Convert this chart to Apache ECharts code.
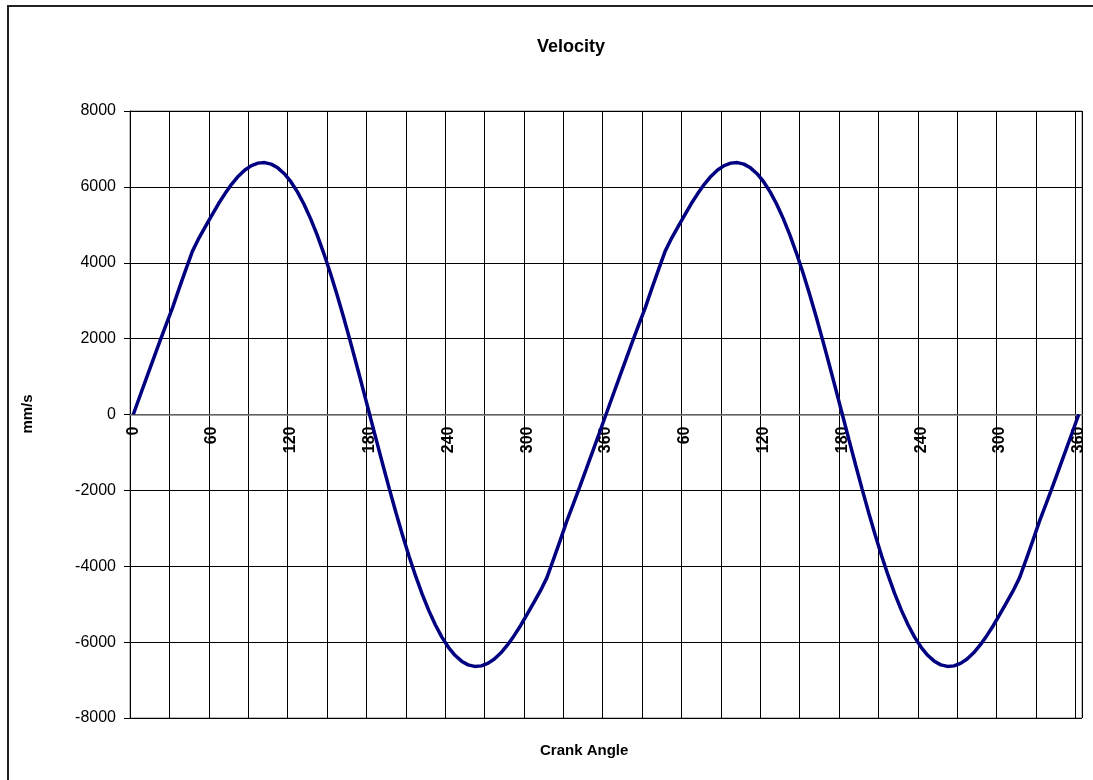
<!DOCTYPE html>
<html>
<head>
<meta charset="utf-8">
<title>Velocity</title>
<script src="https://cdn.jsdelivr.net/npm/echarts@6.0.0/dist/echarts.min.js"></script>
<style>
html,body{margin:0;padding:0;background:#fff;}
#velocityChart{width:1093px;height:780px;}
</style>
</head>
<body>
<div id="velocityChart"></div>
<script>
// crank angle categories, 5 degree steps, two turns (second turn restarts at 5)
var angles = ['0','5','10','15','20','25','30','35','40','45','50','55','60','65','70','75','80','85','90','95','100','105','110','115','120','125','130','135','140','145','150','155','160','165','170','175','180','185','190','195','200','205','210','215','220','225','230','235','240','245','250','255','260','265','270','275','280','285','290','295','300','305','310','315','320','325','330','335','340','345','350','355','360',
	'5','10','15','20','25','30','35','40','45','50','55','60','65','70','75','80','85','90','95','100','105','110','115','120','125','130','135','140','145','150','155','160','165','170','175','180','185','190','195','200','205','210','215','220','225','230','235','240','245','250','255','260','265','270','275','280','285','290','295','300','305','310','315','320','325','330','335','340','345','350','355','360'];

// velocity mm/s
var velocity = [0,481,959,1435,1906,2370,2825,3330,3820,4300,4650,4960,5260,5560,5830,6074,6281,6444,6560,6626,6640,6599,6502,6347,6136,5867,5542,5163,4734,4256,3735,3174,2581,1960,1319,663,0,
	-663,-1319,-1960,-2581,-3174,-3735,-4256,-4734,-5163,-5542,-5867,-6136,-6347,-6502,-6599,-6640,-6626,-6560,-6444,-6281,-6074,-5830,-5560,-5260,-4960,-4650,-4300,-3820,-3330,-2825,-2370,-1906,-1435,-959,-481,0,
	481,959,1435,1906,2370,2825,3330,3820,4300,4650,4960,5260,5560,5830,6074,6281,6444,6560,6626,6640,6599,6502,6347,6136,5867,5542,5163,4734,4256,3735,3174,2581,1960,1319,663,0,
	-663,-1319,-1960,-2581,-3174,-3735,-4256,-4734,-5163,-5542,-5867,-6136,-6347,-6502,-6599,-6640,-6626,-6560,-6444,-6281,-6074,-5830,-5560,-5260,-4960,-4650,-4300,-3820,-3330,-2825,-2370,-1906,-1435,-959,-481,0];

var yTicks = [-8000,-6000,-4000,-2000,0,2000,4000,6000,8000];

var myChart = echarts.init(document.getElementById('velocityChart'));

var gridTop = 111, gridBottom = 62;
var plotH = 780 - gridTop - gridBottom;
// the category axis sits on the zero line, half way up the plot
var zeroOffset = -plotH * (0 - yTicks[0]) / (yTicks[yTicks.length - 1] - yTicks[0]);

var option = {
	animation: false,
	backgroundColor: '#fff',
	textStyle: { fontFamily: 'Arial, "Liberation Sans", sans-serif' },
	title: {
		text: 'Velocity',
		left: 566,
		top: 33,
		textAlign: 'center',
		textStyle: { fontSize: 18, fontWeight: 'bold', color: '#000' }
	},
	grid: {
		left: 130,
		right: 11,
		top: gridTop,
		bottom: gridBottom,
		show: true,
		borderColor: '#808080',
		borderWidth: 1,
		containLabel: false
	},
	graphic: [
		{
			type: 'rect',
			shape: { x: 8, y: 6, width: 1200, height: 900 },
			style: { fill: null, stroke: '#222', lineWidth: 2 },
			silent: true
		},
		{
			type: 'text',
			left: 540,
			top: 743,
			style: { text: 'Crank Angle', font: 'bold 15px Arial, "Liberation Sans", sans-serif', fill: '#000' }
		},
		{
			type: 'text',
			x: 28,
			y: 414,
			rotation: Math.PI / 2,
			style: { text: 'mm/s', font: 'bold 15px Arial, "Liberation Sans", sans-serif', fill: '#000', align: 'center', verticalAlign: 'middle' }
		}
	],
	xAxis: {
		type: 'category',
		data: angles,
		boundaryGap: true,
		position: 'bottom',
		offset: zeroOffset,
		axisLine: { onZero: false, lineStyle: { color: '#808080', width: 1.5 } },
		axisTick: { show: false },
		axisLabel: {
			interval: 11,
			rotate: 90,
			margin: 12,
			fontSize: 16,
			fontWeight: 'bold',
			color: '#000'
		},
		splitLine: { show: true, interval: 5, lineStyle: { color: '#000', width: 1 } }
	},
	yAxis: {
		type: 'value',
		min: yTicks[0],
		max: yTicks[yTicks.length - 1],
		interval: 2000,
		axisLine: { show: true, lineStyle: { color: '#000', width: 1 } },
		axisTick: { show: true, length: 6, lineStyle: { color: '#000' } },
		axisLabel: {
			fontSize: 16,
			color: '#000',
			margin: 14,
			formatter: function(v){ return String(v); }
		},
		splitLine: { show: true, lineStyle: { color: '#000', width: 1 } }
	},
	series: [
		{
			name: 'Velocity',
			type: 'line',
			data: velocity,
			symbol: 'none',
			smooth: false,
			lineStyle: { color: '#000080', width: 3.5 }
		}
	]
};

myChart.setOption(option);
</script>
</body>
</html>
